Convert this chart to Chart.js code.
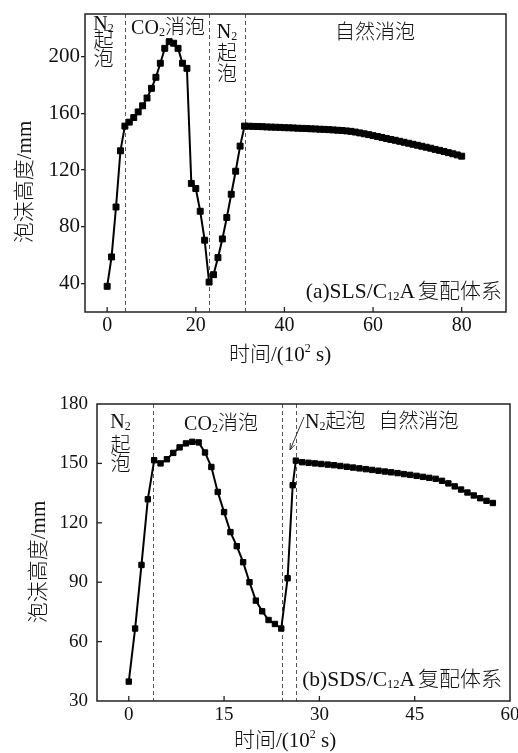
<!DOCTYPE html>
<html><head><meta charset="utf-8">
<script src="https://cdn.jsdelivr.net/npm/chart.js@4.4.1/dist/chart.umd.min.js"></script>
<style>
html,body{margin:0;padding:0;background:#fff;width:518px;height:753px;overflow:hidden;}
canvas{position:absolute;left:0;}
#ca{top:0}
#cb{top:376px}
</style></head><body>
<canvas id="ca" width="518" height="376"></canvas>
<canvas id="cb" width="518" height="377"></canvas>
<script>
// ---------- data (a) SLS/C12A ----------
const timeA = [0,1,2,3,4,5,6,7,8,9,10,11,12,13,14,15,16,17,18,19,20,21,22,23,24,25,26,27,28,29,30,31,
  32,33,34,35,36,37,38,39,40,41,42,43,44,45,46,47,48,49,50,51,52,53,54,55,56,57,58,59,60,
  61,62,63,64,65,66,67,68,69,70,71,72,73,74,75,76,77,78,79,80];
const heightA = [38.1,58.8,94.0,133.6,151.0,153.8,157.0,161.0,165.3,170.8,177.6,185.4,195.3,205.8,210.5,209.4,
  205.8,195.3,191.7,110.6,107.0,91.0,70.6,41.1,46.3,58.3,71.5,86.6,103.0,119.2,136.9,151.0,
  150.9,150.8,150.7,150.6,150.4,150.3,150.2,150.1,149.9,149.8,149.7,149.5,149.4,149.3,
  149.1,149.0,148.8,148.7,148.5,148.3,148.1,147.9,147.6,147.3,146.8,146.2,145.6,145.0,144.3,
  143.7,143.0,142.3,141.6,141.0,140.3,139.6,138.9,138.2,137.5,136.8,136.1,135.4,134.6,133.9,
  133.1,132.3,131.5,130.7,129.8];
const xTicksA = [0,20,40,60,80];
const yTicksA = [40,80,120,160,200];
const stageLinesA = [4.0,23.0,31.0];

// ---------- data (b) SDS/C12A ----------
const timeB = [0,1,2,3,4,5,6,7,8,9,10,11,12,13,14,15,16,17,18,19,20,21,22,23,24,25,25.8,
  26.3,27.3,28.3,29.3,30.3,31.3,32.3,33.3,34.3,35.3,36.3,37.3,38.3,39.3,40.3,41.3,42.3,43.3,
  44.3,45.3,46.3,47.3,48.3,49.3,50.3,51.3,52.3,53.3,54.3,55.3,56.3,57.3];
const heightB = [39.8,66.6,98.7,131.9,151.6,150.0,152.1,155.3,158.1,160.1,160.9,160.6,155.5,148.2,
  135.6,125.4,115.3,108.2,100.1,90.0,80.7,75.3,70.9,68.9,66.6,92.0,139.0,
  151.4,150.6,150.3,150.0,149.7,149.4,149.1,148.7,148.3,147.9,147.5,147.1,146.7,146.3,145.9,
  145.5,145.1,144.6,144.2,143.7,143.2,142.7,142.2,141.2,139.9,138.4,136.8,135.3,133.8,132.4,
  131.1,130.0];
const xTicksB = [0,15,30,45,60];
const yTicksB = [30,60,90,120,150,180];
const stageLinesB = [3.8,24.1,26.3];

// ---------- helpers ----------
const SERIF = '"Liberation Serif", "Noto Sans CJK SC", serif';
const f = s => '300 ' + s + 'px ' + SERIF;

function drawRich(ctx, x, y, parts, align, rot) {
  ctx.save();
  ctx.translate(x, y);
  if (rot) ctx.rotate(-Math.PI / 2);
  ctx.textAlign = 'left';
  ctx.textBaseline = 'alphabetic';
  let w = 0;
  for (const p of parts) {
    if (p.gap) { w += p.gap; continue; }
    ctx.font = p.font; w += ctx.measureText(p.t).width;
  }
  let cx = align === 'center' ? -w / 2 : align === 'right' ? -w : 0;
  for (const p of parts) {
    if (p.gap) { cx += p.gap; continue; }
    ctx.font = p.font;
    ctx.fillText(p.t, cx, p.dy || 0);
    cx += ctx.measureText(p.t).width;
  }
  ctx.restore();
}

const N = 20, SUB = 12;
const n2 = [{t:'N', font:f(N)}, {t:'2', font:f(SUB), dy:2}];
const co2 = [{t:'CO', font:f(N)}, {t:'2', font:f(SUB), dy:2}, {t:'消泡', font:f(N)}];
const xTitle = [{t:'时间/(10', font:f(21)}, {t:'2', font:f(12), dy:-9}, {t:' s)', font:f(21)}];
const yTitle = [{t:'泡沫高度/mm', font:f(21)}];
const tagA = [{t:'(a)SLS/C', font:f(21.5)}, {t:'12', font:f(12.5), dy:2}, {t:'A', font:f(21.5)}, {gap:3}, {t:'复配体系', font:f(21)}];
const tagB = [{t:'(b)SDS/C', font:f(21.5)}, {t:'12', font:f(12.5), dy:2}, {t:'A', font:f(21.5)}, {gap:3}, {t:'复配体系', font:f(21)}];

const overlay = {
  id: 'overlay',
  beforeDatasetsDraw(chart, args, o) {
    const {ctx, chartArea: a, scales: {x}} = chart;
    ctx.save();
    ctx.strokeStyle = '#555'; ctx.lineWidth = 1; ctx.setLineDash([4, 3]);
    for (const v of o.stageLines) {
      const px = Math.round(x.getPixelForValue(v)) + 0.5;
      ctx.beginPath(); ctx.moveTo(px, a.top); ctx.lineTo(px, a.bottom); ctx.stroke();
    }
    ctx.restore();
  },
  afterDatasetsDraw(chart, args, o) {
    const {ctx, chartArea: a, scales: {x, y}} = chart;
    ctx.save();
    ctx.strokeStyle = '#222'; ctx.lineWidth = 1.5;
    ctx.strokeRect(a.left, a.top, a.right - a.left, a.bottom - a.top);
    ctx.lineWidth = 1.3;
    for (const v of o.xTicks) {
      const px = x.getPixelForValue(v);
      if (px < a.left + 2 || px > a.right - 2) continue;
      ctx.beginPath(); ctx.moveTo(px, a.bottom); ctx.lineTo(px, a.bottom - 5); ctx.stroke();
    }
    if (o.yInward) for (const v of o.yTicks) {
      const py = y.getPixelForValue(v);
      if (py < a.top + 2 || py > a.bottom - 2) continue;
      ctx.beginPath(); ctx.moveTo(a.left, py); ctx.lineTo(a.left + 5, py); ctx.stroke();
    }
    ctx.fillStyle = '#111';
    for (const t of o.texts) drawRich(ctx, t.x, t.y, t.parts, t.align, t.rot);
    if (o.arrow) {
      const [x1, y1, x2, y2] = o.arrow;
      ctx.strokeStyle = '#333'; ctx.lineWidth = 1;
      ctx.beginPath(); ctx.moveTo(x1, y1); ctx.lineTo(x2, y2); ctx.stroke();
      const ang = Math.atan2(y2 - y1, x2 - x1), L = 7;
      ctx.beginPath();
      ctx.moveTo(x2 - L * Math.cos(ang - 0.35), y2 - L * Math.sin(ang - 0.35));
      ctx.lineTo(x2, y2);
      ctx.lineTo(x2 - L * Math.cos(ang + 0.35), y2 - L * Math.sin(ang + 0.35));
      ctx.stroke();
    }
    ctx.restore();
  }
};

function makeChart(id, c) {
  return new Chart(document.getElementById(id), {
    type: 'line',
    data: { datasets: [{
      data: c.times.map((t, i) => ({x: t, y: c.heights[i]})),
      borderColor: '#000', backgroundColor: '#000', borderWidth: c.lw,
      pointStyle: 'rect', pointRadius: c.pr, pointBorderWidth: 1,
      pointBackgroundColor: '#000', pointBorderColor: '#000', tension: 0
    }]},
    options: {
      responsive: false, animation: false, devicePixelRatio: 1,
      layout: {padding: c.padding},
      plugins: {legend: {display: false}, tooltip: {enabled: false}, overlay: c.overlay},
      scales: {
        x: {
          type: 'linear', min: c.xMin, max: c.xMax,
          afterBuildTicks: s => { s.ticks = c.xTicks.map(v => ({value: v})); },
          afterFit: s => { s.height = c.xHeight; s.paddingLeft = 0; s.paddingRight = 0; },
          grid: {display: false, drawTicks: false}, border: {display: false},
          ticks: {font: {family: SERIF, size: c.xFont}, color: '#111', padding: c.xPad, maxRotation: 0, autoSkip: false}
        },
        y: {
          type: 'linear', min: c.yMin, max: c.yMax,
          afterBuildTicks: s => { s.ticks = c.yTicks.map(v => ({value: v})); },
          afterFit: s => { s.width = c.yWidth; s.paddingTop = 0; s.paddingBottom = 0; },
          grid: c.yOut ? {display: true, drawOnChartArea: false, drawTicks: true, tickLength: 4, color: '#222', lineWidth: 1.3}
                       : {display: false, drawTicks: false},
          border: {display: false},
          ticks: {font: {family: SERIF, size: c.yFont}, color: '#111', padding: c.yPad, autoSkip: false}
        }
      }
    },
    plugins: [overlay]
  });
}

makeChart('ca', {
  times: timeA, heights: heightA, lw: 2, pr: 4.2,
  padding: {top: 14, right: 12, left: 0, bottom: 0},
  xMin: -5, xMax: 90, yMin: 20, yMax: 230, xTicks: xTicksA, yTicks: yTicksA,
  xHeight: 64, yWidth: 85, xFont: 20, yFont: 21, xPad: 2, yPad: 1, yOut: true,
  overlay: {
    stageLines: stageLinesA, xTicks: xTicksA, yTicks: yTicksA, yInward: false,
    texts: [
      {x: 103.5, y: 30, parts: n2, align: 'center'},
      {x: 103.5, y: 47, parts: [{t:'起', font:f(N)}], align: 'center'},
      {x: 103.5, y: 66, parts: [{t:'泡', font:f(N)}], align: 'center'},
      {x: 168, y: 33.5, parts: co2, align: 'center'},
      {x: 227, y: 38, parts: n2, align: 'center'},
      {x: 227, y: 60, parts: [{t:'起', font:f(N)}], align: 'center'},
      {x: 227, y: 81, parts: [{t:'泡', font:f(N)}], align: 'center'},
      {x: 375, y: 38.5, parts: [{t:'自然消泡', font:f(N)}], align: 'center'},
      {x: 502, y: 298, parts: tagA, align: 'right'},
      {x: 280, y: 361, parts: xTitle, align: 'center'},
      {x: 31, y: 182, parts: yTitle, align: 'center', rot: true}
    ]
  }
});

makeChart('cb', {
  times: timeB, heights: heightB, lw: 2, pr: 3.8,
  padding: {top: 28, right: 8, left: 0, bottom: 0},
  xMin: -5, xMax: 60, yMin: 30, yMax: 180, xTicks: xTicksB, yTicks: yTicksB,
  xHeight: 52, yWidth: 97, xFont: 19, yFont: 19, xPad: 3, yPad: 9, yOut: false,
  overlay: {
    stageLines: stageLinesB, xTicks: xTicksB, yTicks: yTicksB, yInward: true,
    arrow: [304, 41, 290, 74],
    texts: [
      {x: 120.5, y: 52, parts: n2, align: 'center'},
      {x: 120.5, y: 76, parts: [{t:'起', font:f(N)}], align: 'center'},
      {x: 120.5, y: 95, parts: [{t:'泡', font:f(N)}], align: 'center'},
      {x: 221, y: 54, parts: co2, align: 'center'},
      {x: 305, y: 52, parts: n2.concat([{t:'起泡', font:f(N)}, {gap: 13}, {t:'自然消泡', font:f(N)}]), align: 'left'},
      {x: 502, y: 310, parts: tagB, align: 'right'},
      {x: 285, y: 371, parts: xTitle, align: 'center'},
      {x: 45, y: 186, parts: yTitle, align: 'center', rot: true}
    ]
  }
});
</script>
</body></html>
